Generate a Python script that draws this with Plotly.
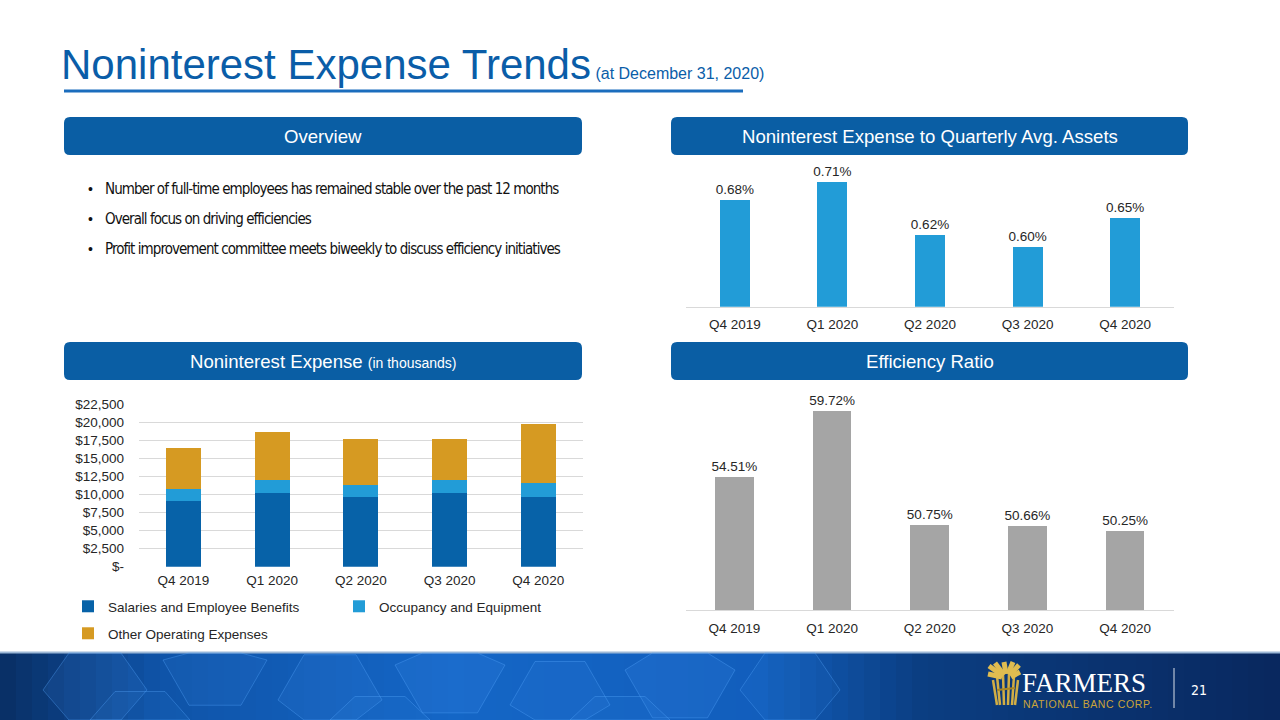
import plotly.graph_objects as go

# ---------------- data ----------------
quarters = ["Q4 2019", "Q1 2020", "Q2 2020", "Q3 2020", "Q4 2020"]
salaries = [9100, 10200, 9700, 10200, 9600]
occupancy = [1670, 1800, 1670, 1800, 2050]
other_opex = [5730, 6710, 6380, 5690, 8130]
nie_to_avg_assets = [0.68, 0.71, 0.62, 0.60, 0.65]
efficiency_ratio = [54.51, 59.72, 50.75, 50.66, 50.25]
expense_tickvals = [0, 2500, 5000, 7500, 10000, 12500, 15000, 17500, 20000, 22500]
expense_ticktext = ["$-", "$2,500", "$5,000", "$7,500", "$10,000", "$12,500",
                    "$15,000", "$17,500", "$20,000", "$22,500"]
bullets = [
    "Number of full-time employees has remained stable over the past 12 months",
    "Overall focus on driving efficiencies",
    "Profit improvement committee meets biweekly to discuss efficiency initiatives",
]

# ---------------- styling ----------------
W, H = 1280, 720
SANS = "Liberation Sans, Arial, Helvetica, sans-serif"
NARROW = "DejaVu Sans Condensed, DejaVu Sans, sans-serif"
DARK_BLUE = "#0762A8"
LIGHT_BLUE = "#229CD7"
GOLD = "#D69A22"
GRAY_BAR = "#A5A5A5"
HEADER_BLUE = "#0A5EA4"
TITLE_BLUE = "#0A5DA8"
TXT = "#262626"
FS = 13.5


def px(x):
    return x / W


def py(y):
    return 1 - y / H


fig = go.Figure()

# stacked expense chart
fig.add_trace(go.Bar(x=quarters, y=salaries, name="Salaries and Employee Benefits",
                     marker=dict(color=DARK_BLUE, line=dict(width=0)), width=0.395,
                     xaxis="x", yaxis="y", legend="legend"))
fig.add_trace(go.Bar(x=quarters, y=occupancy, name="Occupancy and Equipment",
                     marker=dict(color=LIGHT_BLUE, line=dict(width=0)), width=0.395,
                     xaxis="x", yaxis="y", legend="legend"))
fig.add_trace(go.Bar(x=quarters, y=other_opex, name="Other Operating Expenses",
                     marker=dict(color=GOLD, line=dict(width=0)), width=0.395,
                     xaxis="x", yaxis="y", legend="legend2"))

# noninterest expense to avg assets
fig.add_trace(go.Bar(x=quarters, y=nie_to_avg_assets, marker=dict(color=LIGHT_BLUE, line=dict(width=0)),
                     width=0.307, texttemplate="%{y:.2f}%", textposition="outside",
                     constraintext="none",
                     textfont=dict(size=FS, color=TXT, family=SANS), cliponaxis=False,
                     showlegend=False, xaxis="x2", yaxis="y2"))

# efficiency ratio
fig.add_trace(go.Bar(x=quarters, y=efficiency_ratio, marker=dict(color=GRAY_BAR, line=dict(width=0)),
                     width=0.396, texttemplate="%{y:.2f}%", textposition="outside",
                     constraintext="none",
                     textfont=dict(size=FS, color=TXT, family=SANS), cliponaxis=False,
                     showlegend=False, xaxis="x3", yaxis="y3"))

tickfont = dict(size=FS, color=TXT, family=SANS)

shapes = []
annotations = []

# ---------- footer band (gradient) ----------
stops = [(0, (9, 46, 100)), (160, (15, 84, 168)), (450, (20, 102, 198)),
         (760, (18, 94, 188)), (920, (11, 62, 130)), (1280, (9, 40, 94))]


def col_at(x):
    for (x0, c0), (x1, c1) in zip(stops[:-1], stops[1:]):
        if x0 <= x <= x1:
            t = (x - x0) / (x1 - x0)
            return "rgb(%d,%d,%d)" % tuple(round(a + (b - a) * t) for a, b in zip(c0, c1))
    return "rgb(9,40,94)"


step = 16
for x0 in range(0, W, step):
    shapes.append(dict(type="rect", xref="paper", yref="paper", x0=px(x0), x1=px(min(W, x0 + step + 1)),
                       y0=0, y1=py(652), fillcolor=col_at(x0 + step / 2), line=dict(width=0), layer="below"))
shapes.append(dict(type="line", xref="paper", yref="paper", x0=0, x1=1, y0=py(652.5), y1=py(652.5),
                   line=dict(color="#9DB8D6", width=2), layer="below"))

# hexagon pattern
hexes = [(95, 690, 52, 0.12), (215, 660, 52, 0.10), (330, 700, 52, 0.12), (450, 665, 55, 0.14),
         (560, 705, 50, 0.10), (680, 670, 55, 0.15), (790, 690, 50, 0.08), (140, 735, 50, 0.08),
         (380, 740, 50, 0.08), (620, 740, 50, 0.08)]
for cx, cy, r, op in hexes:
    pts = [(cx - r, cy), (cx - r / 2, cy - r * 0.87), (cx + r / 2, cy - r * 0.87),
           (cx + r, cy), (cx + r / 2, cy + r * 0.87), (cx - r / 2, cy + r * 0.87)]
    pts = [(x, min(max(y, 653), 720)) for x, y in pts]
    path = "M " + " L ".join("%f,%f" % (px(x), py(y)) for x, y in pts) + " Z"
    shapes.append(dict(type="path", xref="paper", yref="paper", path=path,
                       fillcolor="rgba(70,150,240,%.2f)" % op,
                       line=dict(color="rgba(90,170,255,0.35)", width=1), layer="below"))

# logo wheat sheaf (stylised)
GOLDLOGO = "#D2AE45"
stalks = [((1000, 705), (997, 676)), ((1004, 705), (1003, 674)), ((1008, 705), (1009, 674)),
          ((1012, 705), (1014, 676)), ((997, 705), (993, 680)), ((1015, 705), (1018, 680))]
for (xa, ya), (xb, yb) in stalks:
    shapes.append(dict(type="line", xref="paper", yref="paper", x0=px(xa), y0=py(ya), x1=px(xb), y1=py(yb),
                       line=dict(color=GOLDLOGO, width=2.5)))
ears = [((1003, 676), (989, 666)), ((1004, 675), (995, 663)), ((1006, 674), (1004, 662)),
        ((1008, 674), (1013, 662)), ((1010, 675), (1019, 665)), ((1011, 677), (1020, 672)),
        ((1002, 677), (988, 674))]
for (xa, ya), (xb, yb) in ears:
    shapes.append(dict(type="line", xref="paper", yref="paper", x0=px(xa), y0=py(ya), x1=px(xb), y1=py(yb),
                       line=dict(color="#E0BC50", width=5)))
shapes.append(dict(type="line", xref="paper", yref="paper", x0=px(997), x1=px(1015), y0=py(690), y1=py(688),
                   line=dict(color="#A88625", width=2)))
shapes.append(dict(type="line", xref="paper", yref="paper", x0=px(1174), x1=px(1174), y0=py(668), y1=py(708),
                   line=dict(color="rgba(255,255,255,0.85)", width=1)))

# ---------- title ----------
annotations.append(dict(xref="paper", yref="paper", x=px(59), y=py(64), xanchor="left", yanchor="middle",
                        showarrow=False, align="left",
                        text="Noninterest Expense Trends<span style='font-size:16px'> (at December 31, 2020)</span>",
                        font=dict(size=42, color=TITLE_BLUE, family=SANS)))
shapes.append(dict(type="line", xref="paper", yref="paper", x0=px(64), x1=px(743), y0=py(91), y1=py(91),
                   line=dict(color="#1B6DBD", width=3)))


# ---------- header boxes ----------
def rounded(x0, y0, x1, y1, r=6):
    pts = ("M {a},{b} L {c},{b} Q {x1},{b} {x1},{d} L {x1},{e} Q {x1},{f} {c},{f} "
           "L {a},{f} Q {x0},{f} {x0},{e} L {x0},{d} Q {x0},{b} {a},{b} Z")
    return pts.format(a=px(x0 + r), b=py(y0), c=px(x1 - r), d=py(y0 + r), e=py(y1 - r), f=py(y1),
                      x0=px(x0), x1=px(x1))


headers = [
    (64, 117, 582, 155, "Overview"),
    (671, 117, 1188, 155, "Noninterest Expense to Quarterly Avg. Assets"),
    (64, 342, 582, 380, "Noninterest Expense <span style='font-size:14px'>(in thousands)</span>"),
    (671, 342, 1188, 380, "Efficiency Ratio"),
]
for x0, y0, x1, y1, label in headers:
    shapes.append(dict(type="path", xref="paper", yref="paper", path=rounded(x0, y0, x1, y1),
                       fillcolor=HEADER_BLUE, line=dict(width=0)))
    annotations.append(dict(xref="paper", yref="paper", x=px((x0 + x1) / 2), y=py((y0 + y1) / 2),
                            xanchor="center", yanchor="middle", showarrow=False, text=label,
                            font=dict(size=18.6, color="white", family=SANS)))

# ---------- bullets ----------
for i, b in enumerate(bullets):
    yy = 189 + i * 30
    annotations.append(dict(xref="paper", yref="paper", x=px(86), y=py(yy), xanchor="left", yanchor="middle",
                            showarrow=False, text="•", font=dict(size=14, color="#111111", family=SANS)))
    annotations.append(dict(xref="paper", yref="paper", x=px(103), y=py(yy), xanchor="left", yanchor="middle",
                            showarrow=False,
                            text="<span style='letter-spacing:-0.95px'>%s</span>" % b,
                            font=dict(size=15, color="#111111", family=NARROW)))

# ---------- logo text ----------
annotations.append(dict(xref="paper", yref="paper", x=px(1020), y=py(683), xanchor="left", yanchor="middle",
                        showarrow=False, text="FARMERS",
                        font=dict(size=27, color="white", family="Liberation Serif, Times New Roman, serif")))
annotations.append(dict(xref="paper", yref="paper", x=px(1021), y=py(704), xanchor="left", yanchor="middle",
                        showarrow=False, text="<span style='letter-spacing:0.6px'>NATIONAL BANC CORP.</span>",
                        font=dict(size=10.5, color="#C9A33A", family=SANS)))
annotations.append(dict(xref="paper", yref="paper", x=px(1199), y=py(690), xanchor="center", yanchor="middle",
                        showarrow=False, text="21",
                        font=dict(size=14, color="white", family=NARROW)))

fig.update_layout(
    width=W, height=H, margin=dict(l=0, r=0, t=0, b=0, pad=0, autoexpand=False),
    paper_bgcolor="white", plot_bgcolor="rgba(0,0,0,0)",
    barmode="stack", bargap=0.6,
    font=dict(family=SANS, color=TXT),
    xaxis=dict(domain=[px(139), px(582.6)], anchor="y", showgrid=False, showline=False, ticks="",
               tickfont=tickfont, ticklabelstandoff=4, automargin=False),
    yaxis=dict(domain=[py(566.7), py(404.3)], anchor="x", range=[0, 22500], tickvals=expense_tickvals,
               ticktext=expense_ticktext, showgrid=True, gridcolor="#D9D9D9", gridwidth=1,
               zeroline=False, showline=False, ticks="", tickfont=tickfont, ticklabelstandoff=14,
               automargin=False),
    xaxis2=dict(domain=[px(686), px(1174)], anchor="y2", showgrid=False, showline=True,
                linecolor="#D9D9D9", linewidth=1, ticks="", tickfont=tickfont, ticklabelstandoff=5,
                automargin=False),
    yaxis2=dict(domain=[py(306.7), py(164)], anchor="x2", range=[0.50, 0.74], visible=False,
                automargin=False),
    xaxis3=dict(domain=[px(685.5), px(1174)], anchor="y3", showgrid=False, showline=True,
                linecolor="#D9D9D9", linewidth=1, ticks="", tickfont=tickfont, ticklabelstandoff=6,
                automargin=False),
    yaxis3=dict(domain=[py(610), py(382.5)], anchor="x3", range=[44, 62], visible=False,
                automargin=False),
    legend=dict(orientation="h", x=px(68), y=py(591), xanchor="left", yanchor="top",
                entrywidth=226, entrywidthmode="pixels", traceorder="normal",
                font=dict(size=FS, color=TXT, family=SANS), bgcolor="rgba(0,0,0,0)"),
    legend2=dict(orientation="h", x=px(68), y=py(618), xanchor="left", yanchor="top",
                 font=dict(size=FS, color=TXT, family=SANS), bgcolor="rgba(0,0,0,0)"),
    shapes=shapes, annotations=annotations,
)

fig.write_html("out.html", config={"displayModeBar": False},
               post_script="document.body.style.margin='0';")
